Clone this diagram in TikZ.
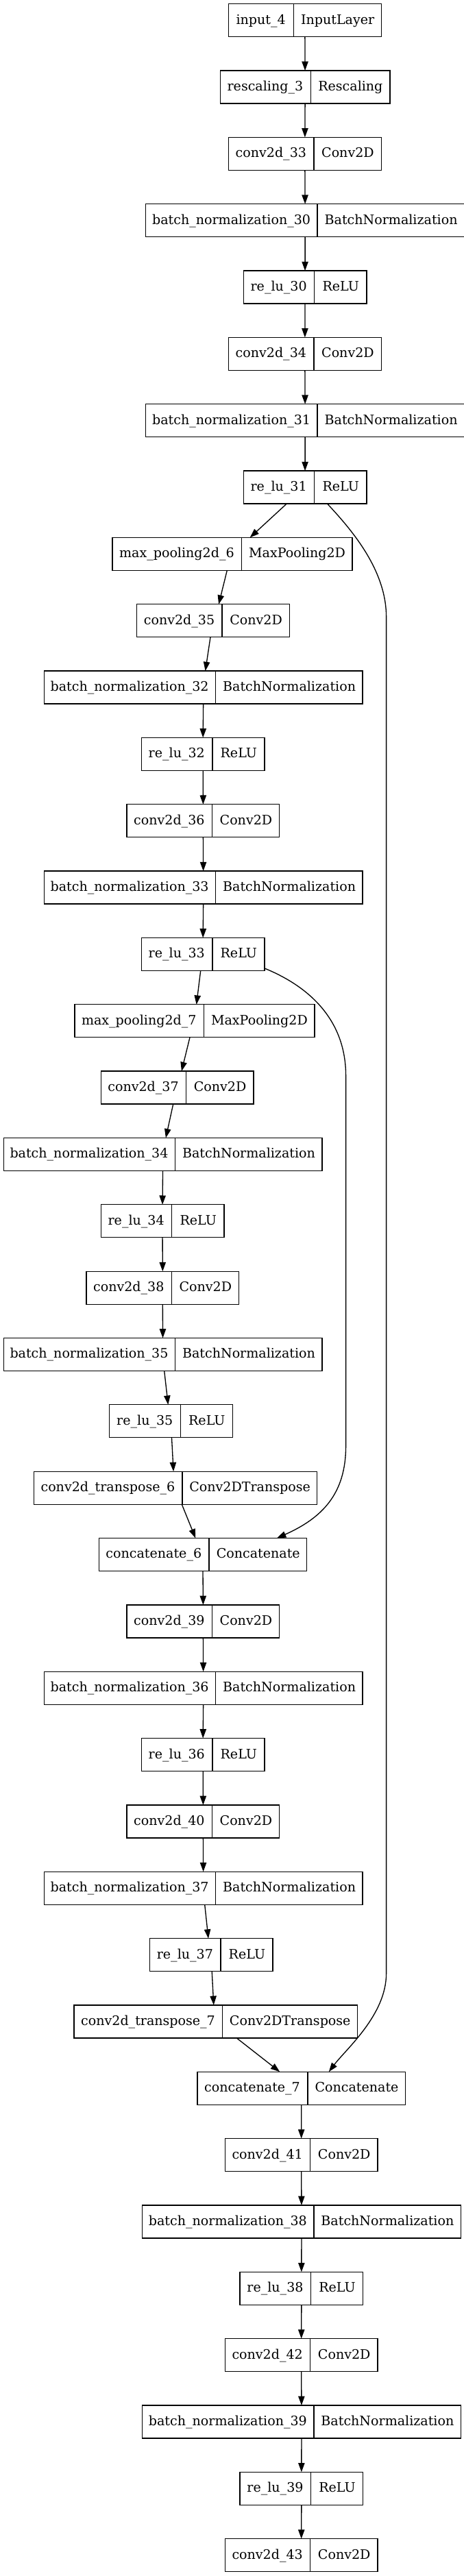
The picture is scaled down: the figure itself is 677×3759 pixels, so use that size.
\documentclass[tikz,border=0pt]{standalone}
\usepackage{fontspec}
\setmainfont{DejaVu Serif}
\usetikzlibrary{shapes.multipart,arrows.meta,calc}
\newcommand{\lyr}[4]{\makebox[#1pt]{\fontsize{14.3}{16}\selectfont\rule[-13.9pt]{0pt}{36pt}#2}\nodepart{two}\makebox[#3pt]{\fontsize{14.3}{16}\selectfont\rule[-13.9pt]{0pt}{36pt}#4}}
\begin{document}
\begin{tikzpicture}[x=0.75pt,y=-0.75pt,
  layer/.style={draw,line width=1pt,rectangle split,rectangle split horizontal,rectangle split parts=2,inner xsep=0pt,inner ysep=0pt,outer sep=0pt,anchor=north west},
  edge/.style={line width=1pt,-{Triangle[length=10pt,width=7pt]}}]
\useasboundingbox (0,0) rectangle (677,3759);
\node[layer] (in4) at (333.5,5.7) {\lyr{70.7}{input\_4}{95.4}{InputLayer}};
\node[layer] (resc3) at (321.3,103.0) {\lyr{98.4}{rescaling\_3}{86.3}{Rescaling}};
\node[layer] (conv33) at (333.5,200.4) {\lyr{92.8}{conv2d\_33}{73.3}{Conv2D}};
\node[layer] (bn30) at (212.8,297.7) {\lyr{187.2}{batch\_normalization\_30}{160.3}{BatchNormalization}};
\node[layer] (relu30) at (355.2,395.1) {\lyr{77.2}{re\_lu\_30}{56.6}{ReLU}};
\node[layer] (conv34) at (333.5,492.4) {\lyr{92.8}{conv2d\_34}{73.3}{Conv2D}};
\node[layer] (bn31) at (212.8,589.7) {\lyr{187.2}{batch\_normalization\_31}{160.3}{BatchNormalization}};
\node[layer] (relu31) at (355.2,687.1) {\lyr{77.2}{re\_lu\_31}{56.6}{ReLU}};
\node[layer] (pool6) at (164.1,784.4) {\lyr{140.7}{max\_pooling2d\_6}{120.8}{MaxPooling2D}};
\node[layer] (conv35) at (199.7,881.8) {\lyr{92.8}{conv2d\_35}{73.3}{Conv2D}};
\node[layer] (bn32) at (64.3,979.1) {\lyr{187.2}{batch\_normalization\_32}{160.3}{BatchNormalization}};
\node[layer] (relu32) at (206.3,1076.4) {\lyr{77.2}{re\_lu\_32}{56.6}{ReLU}};
\node[layer] (conv36) at (185,1173.8) {\lyr{92.8}{conv2d\_36}{73.3}{Conv2D}};
\node[layer] (bn33) at (64.3,1271.1) {\lyr{187.2}{batch\_normalization\_33}{160.3}{BatchNormalization}};
\node[layer] (relu33) at (206.3,1368.5) {\lyr{77.2}{re\_lu\_33}{56.6}{ReLU}};
\node[layer] (pool7) at (109,1465.8) {\lyr{140.7}{max\_pooling2d\_7}{120.8}{MaxPooling2D}};
\node[layer] (conv37) at (147.2,1563.1) {\lyr{92.8}{conv2d\_37}{73.3}{Conv2D}};
\node[layer] (bn34) at (5.2,1660.5) {\lyr{187.2}{batch\_normalization\_34}{160.3}{BatchNormalization}};
\node[layer] (relu34) at (147.2,1757.8) {\lyr{77.2}{re\_lu\_34}{56.6}{ReLU}};
\node[layer] (conv38) at (125.9,1855.2) {\lyr{92.8}{conv2d\_38}{73.3}{Conv2D}};
\node[layer] (bn35) at (5.2,1952.5) {\lyr{187.2}{batch\_normalization\_35}{160.3}{BatchNormalization}};
\node[layer] (relu35) at (159.8,2049.8) {\lyr{77.2}{re\_lu\_35}{56.6}{ReLU}};
\node[layer] (tconv6) at (49.5,2147.2) {\lyr{161.9}{conv2d\_transpose\_6}{146.9}{Conv2DTranspose}};
\node[layer] (cat6) at (144.2,2244.5) {\lyr{120.2}{concatenate\_6}{106.5}{Concatenate}};
\node[layer] (conv39) at (185,2341.9) {\lyr{92.8}{conv2d\_39}{73.3}{Conv2D}};
\node[layer] (bn36) at (64.3,2439.2) {\lyr{187.2}{batch\_normalization\_36}{160.3}{BatchNormalization}};
\node[layer] (relu36) at (206.3,2536.5) {\lyr{77.2}{re\_lu\_36}{56.6}{ReLU}};
\node[layer] (conv40) at (185,2633.9) {\lyr{92.8}{conv2d\_40}{73.3}{Conv2D}};
\node[layer] (bn37) at (64.3,2731.2) {\lyr{187.2}{batch\_normalization\_37}{160.3}{BatchNormalization}};
\node[layer] (relu37) at (218.4,2828.6) {\lyr{77.2}{re\_lu\_37}{56.6}{ReLU}};
\node[layer] (tconv7) at (108.1,2925.9) {\lyr{161.9}{conv2d\_transpose\_7}{146.9}{Conv2DTranspose}};
\node[layer] (cat7) at (287.9,3023.2) {\lyr{120.2}{concatenate\_7}{106.5}{Concatenate}};
\node[layer] (conv41) at (328.3,3120.6) {\lyr{92.8}{conv2d\_41}{73.3}{Conv2D}};
\node[layer] (bn38) at (207.6,3217.9) {\lyr{187.2}{batch\_normalization\_38}{160.3}{BatchNormalization}};
\node[layer] (relu38) at (350,3315.3) {\lyr{77.2}{re\_lu\_38}{56.6}{ReLU}};
\node[layer] (conv42) at (328.3,3412.6) {\lyr{92.8}{conv2d\_42}{73.3}{Conv2D}};
\node[layer] (bn39) at (207.6,3509.9) {\lyr{187.2}{batch\_normalization\_39}{160.3}{BatchNormalization}};
\node[layer] (relu39) at (350,3607.3) {\lyr{77.2}{re\_lu\_39}{56.6}{ReLU}};
\node[layer] (conv43) at (328.3,3704.6) {\lyr{92.8}{conv2d\_43}{73.3}{Conv2D}};
\draw[edge] (in4.south) -- (resc3.north);\draw[edge] (resc3.south) -- (conv33.north);\draw[edge] (conv33.south) -- (bn30.north);\draw[edge] (bn30.south) -- (relu30.north);\draw[edge] (relu30.south) -- (conv34.north);\draw[edge] (conv34.south) -- (bn31.north);\draw[edge] (bn31.south) -- (relu31.north);
\draw[edge] (bn32.south) -- (relu32.north);\draw[edge] (relu32.south) -- (conv36.north);\draw[edge] (conv36.south) -- (bn33.north);\draw[edge] (bn33.south) -- (relu33.north);
\draw[edge] (bn34.south) -- (relu34.north);\draw[edge] (relu34.south) -- (conv38.north);\draw[edge] (conv38.south) -- (bn35.north);
\draw[edge] (cat6.south) -- (conv39.north);\draw[edge] (conv39.south) -- (bn36.north);\draw[edge] (bn36.south) -- (relu36.north);\draw[edge] (relu36.south) -- (conv40.north);\draw[edge] (conv40.south) -- (bn37.north);
\draw[edge] (cat7.south) -- (conv41.north);\draw[edge] (conv41.south) -- (bn38.north);\draw[edge] (bn38.south) -- (relu38.north);\draw[edge] (relu38.south) -- (conv42.north);\draw[edge] (conv42.south) -- (bn39.north);\draw[edge] (bn39.south) -- (relu39.north);\draw[edge] (relu39.south) -- (conv43.north);
\draw[edge] ($(relu31.south west)+(63,0)$) -- ($(pool6.north west)+(200.6,0)$);
\draw[edge] ($(pool6.south west)+(167.2,0)$) -- ($(conv35.north west)+(119.4,0)$);
\draw[edge] ($(conv35.south west)+(107.3,0)$) -- ($(bn32.north west)+(235.3,0)$);
\draw[edge] ($(relu33.south west)+(86.4,0)$) -- ($(pool7.north west)+(177.6,0)$);
\draw[edge] ($(pool7.south west)+(168,0)$) -- ($(conv37.north west)+(117.7,0)$);
\draw[edge] ($(conv37.south west)+(105.5,0)$) -- ($(bn34.north west)+(236.7,0)$);
\draw[edge] ($(bn35.south west)+(234.5,0)$) -- ($(relu35.north west)+(85.5,0)$);
\draw[edge] ($(relu35.south west)+(90.7,0)$) -- ($(tconv6.north west)+(203.6,0)$);
\draw[edge] ($(tconv6.south west)+(215.8,0)$) -- ($(cat6.north west)+(141.1,0)$);
\draw[edge] ($(bn37.south west)+(234.4,0)$) -- ($(relu37.north west)+(85.6,0)$);
\draw[edge] ($(relu37.south west)+(90.8,0)$) -- ($(tconv7.north west)+(203.7,0)$);
\draw[edge] ($(tconv7.south west)+(237.1,0)$) -- ($(cat7.north west)+(120.3,0)$);
% skip connections
\draw[edge] ($(relu33.south east)+(0,-3.5)$) .. controls (440,1435) and (504.6,1480) .. (504.6,1570) -- (504.6,2110) .. controls (504.6,2180) and (470,2215) .. ($(cat6.north west)+(259.8,0)$);
\draw[edge] ($(relu31.south west)+(122.4,0)$) .. controls (510,770) and (563.6,830) .. (563.6,900) -- (563.6,2880) .. controls (563.6,2940) and (505,2990) .. ($(cat7.north west)+(191.9,0)$);
\end{tikzpicture}
\end{document}
